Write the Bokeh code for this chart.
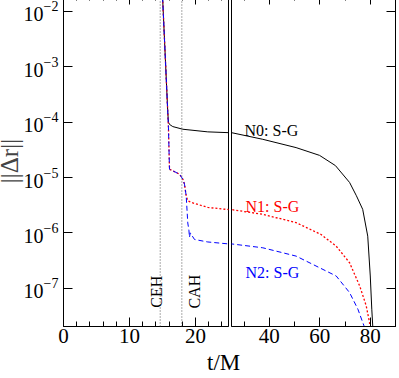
import math
from bokeh.plotting import figure
from bokeh.models import (Range1d, FixedTicker, LinearAxis, Span, Label, Div,
                          LogTickFormatter, CustomJSTickFormatter)
from bokeh.layouts import row, column
from bokeh.embed import file_html
from bokeh.resources import INLINE

FONT = "Liberation Serif"

# ---- data ----
n0_t = [14.9, 15.0, 15.8, 15.9, 16.06, 16.56, 18.08, 21.86, 25.0, 37.4, 50.6, 59.9,
        66.2, 71.8, 74.5, 77.0, 79.0, 80.0, 80.6, 81.0, 81.1]
n0_dr = [3.47e-2, 1.95e-2, 1.51e-4, 1.0e-4, 9.12e-5, 8.32e-5, 7.45e-5, 6.68e-5, 6.46e-5,
         4.90e-5, 3.47e-5, 2.51e-5, 1.64e-5, 8.13e-6, 4.68e-6, 2.66e-6, 8.71e-7,
         1.66e-7, 4.17e-8, 2.0e-8, 1.0e-8]

n1_t = [14.9, 15.0, 15.8, 15.9, 16.06, 16.56, 17.58, 18.08, 18.33, 18.59, 18.83, 19.35,
        21.86, 25.0, 37.4, 50.6, 60.5, 66.5, 71.8, 75.8, 78.4, 79.7, 80.3]
n1_dr = [3.47e-2, 1.95e-2, 1.51e-4, 8.13e-5, 1.41e-5, 1.32e-5, 1.15e-5, 9.33e-6, 7.59e-6,
         4.68e-6, 3.80e-6, 3.55e-6, 2.88e-6, 2.63e-6, 2.16e-6, 1.53e-6, 9.33e-7,
         5.75e-7, 2.88e-7, 1.10e-7, 4.79e-8, 2.40e-8, 1.0e-8]

n2_t = [14.9, 15.0, 15.8, 15.9, 16.06, 16.56, 17.58, 18.08, 18.33, 18.59, 18.83, 19.0,
        19.09, 19.2, 19.85, 21.86, 25.0, 37.4, 50.6, 59.9, 66.5, 71.8, 75.1, 77.5, 77.8]
n2_dr = [3.47e-2, 1.95e-2, 1.51e-4, 8.13e-5, 1.41e-5, 1.32e-5, 1.15e-5, 9.33e-6, 7.59e-6,
         4.68e-6, 1.51e-6, 1.12e-6, 8.32e-7, 1.0e-6, 7.59e-7, 6.84e-7, 6.31e-7, 5.37e-7,
         3.80e-7, 2.34e-7, 1.66e-7, 8.32e-8, 4.17e-8, 2.09e-8, 1.0e-8]

horizon_t = [14.65, 17.93]
horizon_names = ["CEH", "CAH"]
series_names = ["N0: S-G", "N1: S-G", "N2: S-G"]
series_colors = ["black", "red", "blue"]

y_ticks = [1e-7, 1e-6, 1e-5, 1e-4, 1e-3, 1e-2]
left_major = [0, 10, 20]
left_minor = [2, 4, 6, 8, 12, 14, 16, 18, 22, 24]
right_major = [40, 60, 80]
right_minor = [30, 50, 70, 90]

Y_LO, Y_HI = 2.03e-8, 1.945e-2


def style_axis(ax, show_labels, size="20px", minor=True):
    ax.axis_line_color = "black"
    ax.axis_line_width = 1
    ax.major_tick_in = 9
    ax.major_tick_out = 0
    ax.minor_tick_in = 5 if minor else 0
    ax.minor_tick_out = 0
    ax.major_tick_line_color = "black"
    ax.minor_tick_line_color = "black"
    ax.major_label_text_font = FONT
    ax.major_label_text_color = "black"
    ax.major_label_text_font_size = size
    if not show_labels:
        ax.formatter = CustomJSTickFormatter(code="return ''")
        ax.major_label_standoff = 0


def make_fig(x0, x1, major, minor, left):
    p = figure(frame_width=165 if left else 164, frame_height=331,
               x_range=Range1d(x0, x1), y_range=Range1d(Y_LO, Y_HI),
               y_axis_type="log", y_axis_location="left" if left else "right",
               output_backend="svg", toolbar_location=None,
               min_border_left=64 if left else 1, min_border_right=2 if left else 3,
               min_border_top=3, min_border_bottom=24)
    p.xgrid.visible = False
    p.ygrid.visible = False
    p.outline_line_color = "black"
    p.outline_line_width = 1
    p.background_fill_color = "white"
    p.border_fill_color = "white"

    xa = p.xaxis[0]
    xa.ticker = FixedTicker(ticks=major, minor_ticks=minor)
    style_axis(xa, True, "21px")
    xa.major_label_standoff = 2

    top = LinearAxis(ticker=FixedTicker(ticks=major, minor_ticks=minor))
    style_axis(top, False)
    p.add_layout(top, "above")

    ya = p.yaxis[0]
    ya.ticker = FixedTicker(ticks=y_ticks, minor_ticks=[])
    if left:
        ya.formatter = LogTickFormatter()
    style_axis(ya, left, "20px", minor=False)
    if left:
        ya.major_label_standoff = 5
        ya.axis_label = "||Δr||"
        ya.axis_label_text_font = FONT
        ya.axis_label_text_font_size = "25px"
        ya.axis_label_text_font_style = "normal"
        ya.axis_label_standoff = -2

    p.line(n0_t, n0_dr, line_color=series_colors[0], line_width=1)
    p.line(n1_t, n1_dr, line_color=series_colors[1], line_width=1.3, line_dash="2 2")
    p.line(n2_t, n2_dr, line_color=series_colors[2], line_width=1, line_dash="5 3")
    return p


left = make_fig(0, 25, left_major, left_minor, True)
right = make_fig(25, 90, right_major, right_minor, False)

for t in horizon_t:
    left.add_layout(Span(location=t, dimension="height", line_color="#555555",
                         line_width=1, line_dash="1 2"))

left.add_layout(Label(x=14.05, y=8.65e-8, text=horizon_names[0], angle=math.pi / 2,
                      text_align="center", text_baseline="alphabetic",
                      text_font=FONT, text_font_size="16px", text_color="black"))
left.add_layout(Label(x=19.92, y=8.65e-8, text=horizon_names[1], angle=math.pi / 2,
                      text_align="center", text_baseline="alphabetic",
                      text_font=FONT, text_font_size="16px", text_color="black"))

label_pos = [(30.15, 7.05e-5), (30.55, 2.95e-6), (30.55, 1.96e-7)]
for name, col, (lx, ly) in zip(series_names, series_colors, label_pos):
    right.add_layout(Label(x=lx, y=ly, text=name, text_font=FONT, text_font_size="16px",
                           text_color=col, text_baseline="alphabetic"))

xlabel = Div(text="t/M", width=399, height=26, margin=0,
             styles={"font-family": FONT, "font-size": "23px", "line-height": "26px",
                     "padding-left": "215px", "color": "black"})

layout = column(row(left, right, spacing=0), xlabel, spacing=0,
                margin=(-8, 0, -8, -8))

open("out.html", "w").write(file_html(layout, INLINE))
